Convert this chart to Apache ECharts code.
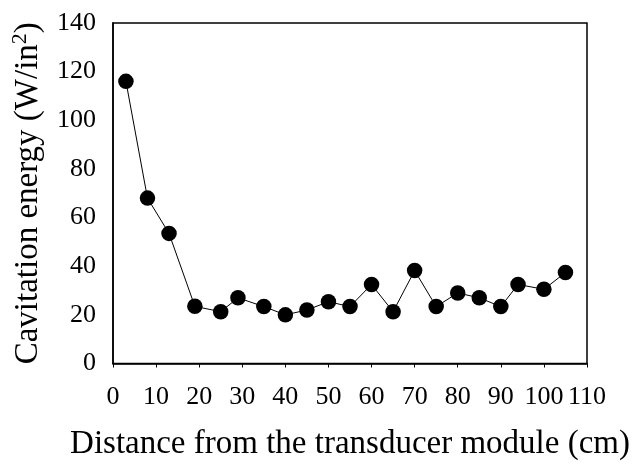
<!DOCTYPE html>
<html><head><meta charset="utf-8">
<script src="https://cdn.jsdelivr.net/npm/echarts@6/dist/echarts.min.js"></script>
<style>html,body{margin:0;padding:0;background:#fff}#c{width:641px;height:476px}</style>
</head><body><div id="c"></div>
<script>
const distances = [3, 8, 13, 19, 25, 29, 35, 40, 45, 50, 55, 60, 65, 70, 75, 80, 85, 90, 94, 100, 105];
const energy = [116, 68, 53.5, 23.5, 21.3, 27, 23.4, 20, 22, 25.4, 23.4, 32.5, 21.3, 38.2, 23.4, 29, 27, 23.4, 32.5, 30.5, 37.4];
const xTitle = 'Distance from the transducer module (cm)';
const yTitle = 'Cavitation energy (W/in';
const font = 'Liberation Serif';

const chart = echarts.init(document.getElementById('c'));
chart.setOption({
  animation: false,
  backgroundColor: '#fff',
  grid: { left: 113, right: 54, top: 23, bottom: 112.5, show: true, borderColor: '#000', borderWidth: 1.5,
          outerBoundsMode: 'none', containLabel: false },
  xAxis: {
    type: 'value', min: 0, max: 110, interval: 10,
    axisLine: { onZero: false, lineStyle: { color: '#000', width: 1.5 } },
    axisTick: { show: true, inside: false, length: 4, lineStyle: { color: '#000', width: 1 } },
    splitLine: { show: false },
    axisLabel: { color: '#000', fontFamily: font, fontSize: 26, margin: 21 },
    name: xTitle, nameLocation: 'middle', nameGap: 64,
    nameTextStyle: { color: '#000', fontFamily: font, fontSize: 33 }
  },
  yAxis: {
    type: 'value', min: 0, max: 140, interval: 20,
    axisLine: { show: true, onZero: false, lineStyle: { color: '#000', width: 1.5 } },
    axisTick: { show: false },
    splitLine: { show: false },
    axisLabel: { color: '#000', fontFamily: font, fontSize: 26, margin: 17 },
    name: '{t|' + yTitle + '}{s|2}{t|)}', nameLocation: 'middle', nameGap: 66, nameRotate: 90,
    nameTextStyle: {
      color: '#000', fontFamily: font, fontSize: 33,
      rich: {
        t: { fontFamily: font, fontSize: 33, color: '#000', lineHeight: 38 },
        s: { fontFamily: font, fontSize: 22, color: '#000', lineHeight: 38, verticalAlign: 'top', padding: [0, 0, 15, 0] }
      }
    }
  },
  series: [{
    type: 'line',
    data: distances.map((d, i) => [d, energy[i]]),
    symbol: 'circle', symbolSize: 15.5,
    itemStyle: { color: '#000' },
    lineStyle: { color: '#000', width: 1 }
  }]
});
</script></body></html>
